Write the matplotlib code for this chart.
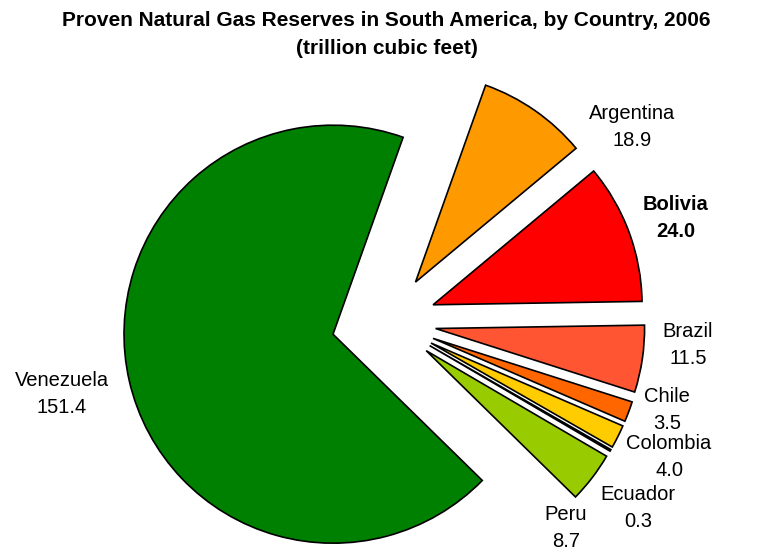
import numpy as np
import matplotlib.pyplot as plt

# reserves, trillion cubic feet (2006)
countries = ['Argentina', 'Bolivia', 'Brazil', 'Chile', 'Colombia',
             'Ecuador', 'Peru', 'Venezuela']
reserves = [18.9, 24.0, 11.5, 3.5, 4.0, 0.3, 8.7, 151.4]
colors = ['#FF9900', '#FF0000', '#FF5533', '#FF6600', '#FFCC00',
          '#222222', '#99CC00', '#008000']
explode = [0.23, 0.23, 0.23, 0.23, 0.23, 0.23, 0.23, 0.27]

# label centres in pixels (x from left, y from top)
label_px = [(632, 127), (676, 218), (688, 345), (667, 410), (669, 457),
            (638, 508), (566, 528), (62, 394)]

W, H = 773, 553
cx, cy = 388, 321.5   # pie centre in pixels
rpx = 209             # pie radius in pixels

fig = plt.figure(figsize=(W / 100, H / 100), dpi=100)
ax = fig.add_axes([0, 0, 1, 1])

ax.pie(reserves, colors=colors, explode=explode, startangle=70.4,
       counterclock=False, radius=1,
       wedgeprops=dict(edgecolor='black', linewidth=1.2))

# pie() sets its own limits, so fix them afterwards
ax.set_xlim(-cx / rpx, (W - cx) / rpx)
ax.set_ylim(-(H - cy) / rpx, cy / rpx)
ax.set_aspect('equal')
ax.axis('off')

for name, val, (px, py) in zip(countries, reserves, label_px):
    weight = 'bold' if name == 'Bolivia' else 'normal'
    ax.text((px - cx) / rpx, (cy - py) / rpx, f'{name}\n{val:.1f}',
            ha='center', va='center', fontsize=14.5, linespacing=1.5,
            family='Liberation Sans', fontweight=weight)

fig.text(0.5, 1 - 21 / H, 'Proven Natural Gas Reserves in South America, by Country, 2006',
         ha='center', va='center', fontsize=15, fontweight='bold',
         family='Liberation Sans')
fig.text(0.5, 1 - 48 / H, '(trillion cubic feet)',
         ha='center', va='center', fontsize=15, fontweight='bold',
         family='Liberation Sans')

fig.savefig('out.png', dpi=100)
